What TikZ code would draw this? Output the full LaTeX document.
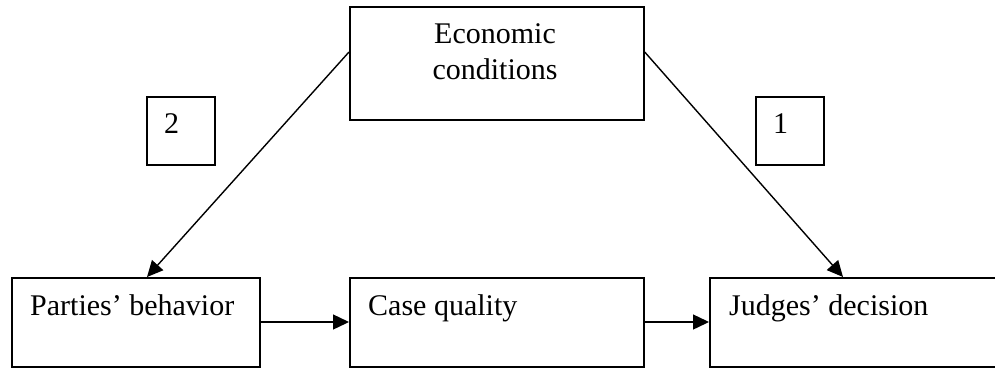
\documentclass[tikz,border=0pt]{standalone}
\usepackage{fontspec}
\setmainfont{Liberation Serif}
\usetikzlibrary{arrows.meta}
\begin{document}
\begin{tikzpicture}[x=1pt,y=-1pt,
  box/.style={draw=black, line width=1.7pt, rectangle, inner sep=0pt, anchor=north west},
  lbl/.style={font=\fontsize{30}{36}\selectfont, inner sep=0pt},
  conn/.style={line width=1.4pt, -{Triangle[length=16pt,width=15pt]}}]
\clip (0,0) rectangle (995,367);
% boxes
\node[box, minimum width=294pt, minimum height=113pt] (eco) at (349,6) {};
\node[box, minimum width=68pt, minimum height=68pt] (two) at (146,96) {};
\node[box, minimum width=68pt, minimum height=68pt] (one) at (755,96) {};
\node[box, minimum width=248pt, minimum height=89pt] (pb) at (11,277) {};
\node[box, minimum width=294pt, minimum height=89pt] (cq) at (349,277) {};
\node[box, minimum width=300pt, minimum height=89pt] (jd) at (709,277) {};
% texts
\node[lbl, anchor=base] (ecot1) at (495,43) {Economic};
\node[lbl, anchor=base] (ecot2) at (495,79) {conditions};
\node[lbl, anchor=base west] (twot) at (164,133) {2};
\node[lbl, anchor=base west] (onet) at (773,133) {1};
\node[lbl, anchor=base west] (pbt) at (30,315) {Parties’ behavior};
\node[lbl, anchor=base west] (cqt) at (368,315) {Case quality};
\node[lbl, anchor=base west] (jdt) at (729,315) {Judges’ decision};
% connectors
\coordinate (ecoL) at ([yshift=-46pt]eco.north west);
\coordinate (ecoR) at ([yshift=-46pt]eco.north east);
\draw[conn] (ecoL) -- (pb.north -| 147,0);
\draw[conn] (ecoR) -- (jd.north -| 843,0);
\draw[conn] (pb.east |- 0,322) -- (cq.west |- 0,322);
\draw[conn] (cq.east |- 0,322) -- (jd.west |- 0,322);
\end{tikzpicture}
\end{document}
